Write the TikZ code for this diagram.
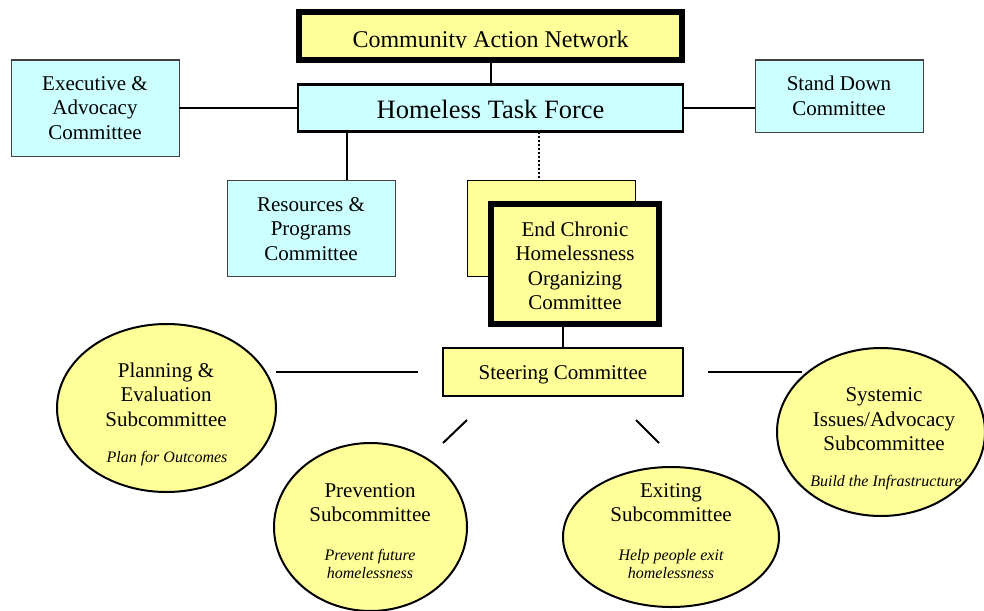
\documentclass[tikz,border=0pt]{standalone}
\usepackage{fontspec}
\setmainfont{Liberation Serif}
\usetikzlibrary{shapes.geometric}
\definecolor{pyellow}{RGB}{255,255,153}
\definecolor{pcyan}{RGB}{204,255,255}
\newcommand{\nfont}{\fontsize{21}{24.5}\selectfont}
\newcommand{\ifont}{\fontsize{16}{18.5}\selectfont\itshape}
\tikzset{
  cbox/.style={draw=black!75, line width=1pt, fill=pcyan, inner sep=0pt, outer sep=0pt, align=center, font=\nfont},
  ybox/.style={draw=black, line width=1pt, fill=pyellow, inner sep=0pt, outer sep=0pt, align=center, font=\nfont},
  thickbox/.style={draw=black, line width=6pt, fill=pyellow, inner sep=0pt, outer sep=0pt, align=center, font=\nfont},
  oval/.style={ellipse, draw=black, line width=2pt, fill=pyellow, inner sep=0pt, outer sep=0pt},
  maintxt/.style={align=center, font=\nfont, inner sep=0pt},
  itxt/.style={align=center, font=\ifont, inner sep=0pt},
  link/.style={line width=2pt, draw=black}
}
\begin{document}
\begin{tikzpicture}[x=1pt, y=-1pt]
\useasboundingbox (0,0) rectangle (984,610);
\fill[white] (0,0) rectangle (984,610);

% top boxes
\node[thickbox, minimum width=383pt, minimum height=48pt] (can) at (490.5,36) {};
\begin{scope}
  \clip (300,14) rectangle (681,47.5);
  \node[anchor=base, font=\fontsize{24}{28}\selectfont, inner sep=0pt] (cantxt) at (490.5,48) {Community Action Network};
\end{scope}
\node[cbox, draw=black, line width=2.5pt, minimum width=385pt, minimum height=47pt, text height=20pt, text depth=0pt, font=\fontsize{26.5}{30}\selectfont] (htf) at (490.5,108) {Homeless Task Force};

\node[cbox, minimum width=168pt, minimum height=96pt] (exec) at (95,108) {Executive \&\\Advocacy\\Committee};
\node[cbox, minimum width=168pt, minimum height=72pt] (sd) at (839,96) {Stand Down\\Committee};
\node[cbox, minimum width=168pt, minimum height=96pt] (res) at (311,228) {\rule{0pt}{16pt}Resources \&\\Programs\\Committee};

\node[ybox, minimum width=168pt, minimum height=96pt] (back) at (551,228) {};
\node[thickbox, minimum width=168pt, minimum height=120pt] (ech) at (575,264) {\rule{0pt}{18.5pt}End Chronic\\Homelessness\\Organizing\\Committee};

\node[ybox, line width=1.5pt, minimum width=240pt, minimum height=48pt, text height=18pt, text depth=2.5pt] (steer) at (563,372) {Steering Committee};

% connectors
\draw[link] (can) -- (htf);
\draw[link] (exec.east) -- (htf.west);
\draw[link] (htf.east) -- (htf.east -| sd.west);
\draw[link] (htf.south -| 347,0) -- (res.north -| 347,0);
\draw[link, line width=2.5pt, dash pattern=on 2pt off 2pt] (htf.south -| 539,0) -- (back.north -| 539,0);
\draw[link] (steer.north |- ech.south) -- (steer.north);

% ellipses
\node[oval, minimum width=219pt, minimum height=168pt] (plan) at (166.5,408) {};
\node[maintxt] (plant) at (166,394.5) {Planning \&\\Evaluation\\Subcommittee};
\node[itxt] (plani) at (167,459) {Plan for Outcomes};

\node[oval, minimum width=208pt, minimum height=168pt] (sys) at (881,432) {};
\node[maintxt] (syst) at (884,419.5) {Systemic\\Issues/Advocacy\\Subcommittee};
\node[itxt] (sysi) at (886,483) {Build the Infrastructure};

\node[oval, minimum width=193pt, minimum height=168pt] (prev) at (370.5,527) {};
\node[maintxt] (prevt) at (370,502.5) {Prevention\\Subcommittee};
\node[itxt] (previ) at (370,564) {Prevent future\\homelessness};

\node[oval, minimum width=216pt, minimum height=140pt] (exit) at (671,537) {};
\node[maintxt] (exitt) at (671,502.5) {Exiting\\Subcommittee};
\node[itxt] (exiti) at (671,564) {Help people exit\\homelessness};

% free connectors around steering committee
\coordinate (l1) at (276,372);
\coordinate (l2) at (418,372);
\coordinate (r1) at (708,372);
\coordinate (r2) at (802,372);
\coordinate (d1a) at (467,420);
\coordinate (d1b) at (443,443);
\coordinate (d2a) at (636,420);
\coordinate (d2b) at (659,443);
\draw[link] (l1) -- (l2);
\draw[link] (r1) -- (r2);
\draw[link] (d1a) -- (d1b);
\draw[link] (d2a) -- (d2b);
\end{tikzpicture}
\end{document}
